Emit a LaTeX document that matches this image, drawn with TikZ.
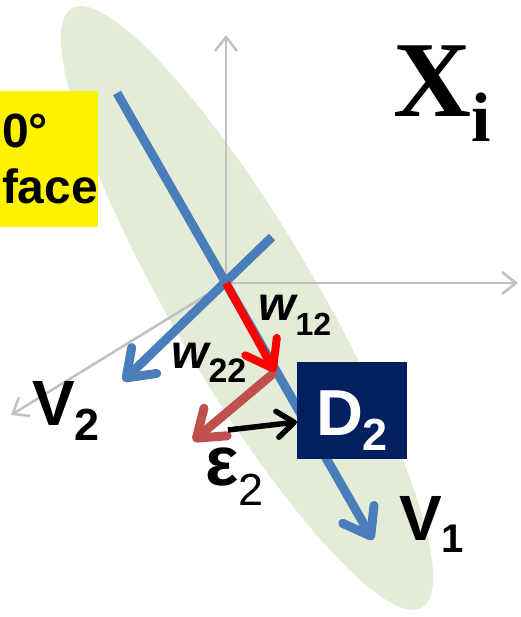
\documentclass[tikz,border=0pt]{standalone}
\usepackage{fontspec}
\setmainfont{Liberation Sans}
\newfontfamily\xifont{Liberation Serif}
\usetikzlibrary{arrows.meta,positioning}
\definecolor{leaf}{HTML}{E4ECD7}
\definecolor{steel}{HTML}{4A7EBB}
\definecolor{brick}{HTML}{C0504D}
\definecolor{navy}{HTML}{002060}
\definecolor{axisgray}{HTML}{C0C0C0}

\begin{document}
\begin{tikzpicture}[x=1pt,y=-1pt,every node/.style={inner sep=0pt},
  axis/.style={draw=axisgray,line width=2.5pt,-{Straight Barb[length=14pt,width=22pt]}},
  vec/.style={line width=9pt,-{Straight Barb[length=25pt,width=36pt,round]}},
  lab/.style={anchor=base west,font=\fontsize{64}{64}\selectfont\bfseries}]
\useasboundingbox (0,0) rectangle (520,617);
\coordinate (c) at (247,308);
\fill[leaf,rotate around={-59.7:(c)}] (c) ellipse [x radius=347pt,y radius=73pt];
% axes
\coordinate (o) at (226,283);
\coordinate (zup) at (226,35);
\coordinate (zright) at (518,283);
\coordinate (zdiag) at (11,415);
\draw[axis] (o)--(zup);
\draw[axis] (o)--(zright);
\draw[axis] (o)--(zdiag);
% principal directions
\coordinate (v1a) at (117,93);
\coordinate (v1b) at (373,540);
\coordinate (v2a) at (272,237);
\coordinate (v2b) at (123,381);
\draw[vec,steel] (v1a)--(v1b);
\draw[vec,steel] (v2a)--(v2b);
% weights and residual
\coordinate (w12) at (275,372);
\coordinate (w22) at (193,441);
\coordinate (e2a) at (228,430);
\coordinate (e2b) at (297,422);
\draw[vec,brick] (w12)--(w22);
\draw[vec,red,line width=8pt] (o)--(w12);
\node[fill=navy,text=white,minimum width=110pt,minimum height=97pt,text height=49pt,text depth=0pt,font=\fontsize{65}{65}\selectfont\bfseries] (d2) at (352,410.5) {D\raisebox{-15pt}{\fontsize{45}{45}\selectfont 2}};
\draw[line width=5.5pt,-{Straight Barb[length=17pt,width=26pt,round]}] (e2a)--(e2b);
\node[fill=yellow,minimum width=98pt,minimum height=136pt,text width=94pt,align=left,inner xsep=2pt,font=\fontsize{48}{56}\selectfont\bfseries] (face) at (49,159) {0°\\face};
% labels
\node[lab,font=\fontsize{108}{108}\selectfont\xifont\bfseries] (xi) at (393,117) {X\raisebox{-25pt}{\fontsize{70}{70}\selectfont i}};
\node[lab] (v2lab) at (32,425) {V\raisebox{-15pt}{\fontsize{45}{45}\selectfont 2}};
\node[lab] (v1lab) at (399,540) {V\raisebox{-12pt}{\fontsize{40}{40}\selectfont 1}};
\node[lab,font=\fontsize{48}{48}\selectfont\bfseries\itshape] (w12lab) at (258,320) {w\raisebox{-15pt}{\upshape\fontsize{32}{32}\selectfont 12}};
\node[lab,font=\fontsize{48}{48}\selectfont\bfseries\itshape] (w22lab) at (171,368) {w\raisebox{-14pt}{\upshape\fontsize{34}{34}\selectfont 22}};
\node[lab,font=\fontsize{70}{70}\selectfont\bfseries] (e2lab) at (205,485) {ε\raisebox{-20pt}{\mdseries\fontsize{45}{45}\selectfont 2}};
\end{tikzpicture}
\end{document}
